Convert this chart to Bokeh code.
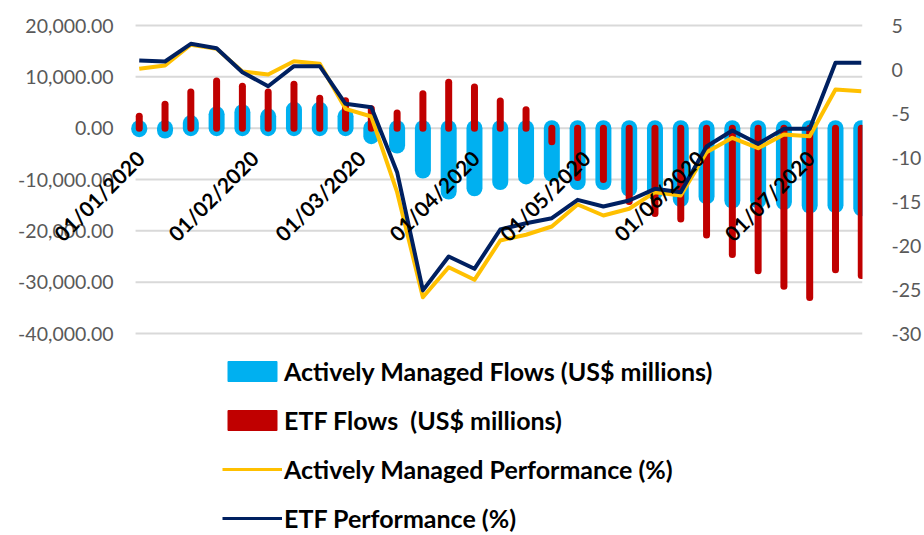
import numpy as np
import pandas as pd
from bokeh.plotting import figure
from bokeh.layouts import column
from bokeh.models import (Range1d, LinearAxis, FixedTicker, NumeralTickFormatter,
                          Legend, LegendItem, ColumnDataSource)
from bokeh.embed import file_html
from bokeh.resources import INLINE
from bokeh.core.properties import value

# ---------------- data ----------------
week_dates = ["2020-01-01", "2020-01-08", "2020-01-15", "2020-01-22", "2020-01-29",
              "2020-02-05", "2020-02-12", "2020-02-19", "2020-02-26",
              "2020-03-04", "2020-03-11", "2020-03-18", "2020-03-25",
              "2020-04-01", "2020-04-08", "2020-04-15", "2020-04-22", "2020-04-29",
              "2020-05-06", "2020-05-13", "2020-05-20", "2020-05-27",
              "2020-06-03", "2020-06-10", "2020-06-17", "2020-06-24",
              "2020-07-01", "2020-07-08", "2020-07-15"]

active_flows = [-200, -450, 1000, 2700, 3100, 2300, 3600, 3600, 2300,
                -1560, -3380, -8250, -12340, -11700, -10500, -9400, -8900,
                -10500, -10500, -11800, -12500, -13800, -13300, -14100,
                -14100, -14400, -15070, -15000, -15600]

etf_flows = [2300, 4640, 7060, 9200, 8150, 7060, 8550, 5850, 5350,
             3800, 2960, 6720, 8930, 8030, 5300, 3600, -2630,
             -9600, -10000, -14300, -16600, -17700, -20800, -24600,
             -27800, -30800, -33000, -27600, -28700]

active_perf = [0.08, 0.45, 2.81, 2.35, -0.23, -0.57, 0.94, 0.65, -4.47,
               -5.34, -13.94, -25.88, -22.47, -23.9, -19.43, -18.78, -17.84,
               -15.34, -16.59, -15.83, -13.94, -14.32, -9.4, -7.76,
               -8.94, -7.39, -7.58, -2.27, -2.47]

etf_perf = [1.02, 0.91, 2.92, 2.42, -0.31, -1.9, 0.38, 0.38, -3.9,
            -4.28, -11.67, -25.1, -21.25, -22.65, -18.18, -17.47, -16.9,
            -14.81, -15.57, -14.89, -13.56, -13.94, -8.75, -6.93,
            -8.44, -6.74, -6.74, 0.76, 0.76]

month_ticks = ["2020-01-01", "2020-02-01", "2020-03-01", "2020-04-01",
               "2020-05-01", "2020-06-01", "2020-07-01"]
month_labels = ["01/01/2020", "01/02/2020", "01/03/2020", "01/04/2020",
                "01/05/2020", "01/06/2020", "01/07/2020"]

left_ticks = [-40000, -30000, -20000, -10000, 0, 10000, 20000]
right_ticks = [-30, -25, -20, -15, -10, -5, 0, 5]

series_names = ["Actively Managed Flows (US$ millions)",
                "ETF Flows  (US$ millions)",
                "Actively Managed Performance (%)",
                "ETF Performance (%)"]

# ---------------- styles / layout ----------------
BLUE = "#00B0F0"
RED = "#C00000"
YELLOW = "#FFC000"
NAVY = "#002060"
GRID = "#D9D9D9"
AXIS_TXT = "#595959"
FONT = "Lato"

PLOT_L, PLOT_R, PLOT_T, PLOT_B = 136, 868, 25, 333   # plot area in pixels
FIG_W, FIG_H = 924, 345
LEFT_MIN, LEFT_MAX = left_ticks[0], left_ticks[-1]
RIGHT_MIN, RIGHT_MAX = right_ticks[0], right_ticks[-1]

dates = pd.to_datetime(week_dates)
n = len(dates)
src = ColumnDataSource(dict(date=dates, zero=[0] * n,
                            active=active_flows, etf=etf_flows,
                            aperf=active_perf, eperf=etf_perf))

# plot-area x extent, then widened so the frame covers the label gutter
x_lo = dates[0] - pd.Timedelta(days=1)
x_hi = dates[-1] + pd.Timedelta(hours=8)
t_per_px = (x_hi - x_lo) / (PLOT_R - PLOT_L)
x_full_lo = x_lo - PLOT_L * t_per_px

lu = (LEFT_MAX - LEFT_MIN) / (PLOT_B - PLOT_T)
ru = (RIGHT_MAX - RIGHT_MIN) / (PLOT_B - PLOT_T)
y_rng = Range1d(LEFT_MIN - (FIG_H - PLOT_B) * lu, LEFT_MAX + PLOT_T * lu)
r_rng = Range1d(RIGHT_MIN - (FIG_H - PLOT_B) * ru, RIGHT_MAX + PLOT_T * ru)

# ---------------- main chart ----------------
p = figure(width=FIG_W, height=FIG_H, x_axis_type="datetime",
           x_axis_location=None, y_axis_location=None,
           x_range=Range1d(x_full_lo, x_hi), y_range=y_rng,
           output_backend="svg", toolbar_location=None,
           min_border_left=0, min_border_right=FIG_W - PLOT_R,
           min_border_top=0, min_border_bottom=0)
p.outline_line_color = None
p.background_fill_color = "white"
p.border_fill_color = "white"
p.xgrid.visible = False
p.ygrid.visible = False

p.extra_y_ranges = {"pct": r_rng}
yr = LinearAxis(y_range_name="pct", ticker=FixedTicker(ticks=right_ticks),
                formatter=NumeralTickFormatter(format="0"))
yr.axis_line_color = None
yr.major_tick_line_color = None
yr.minor_tick_line_color = None
yr.major_label_text_font = FONT
yr.major_label_text_font_size = "19.5px"
yr.major_label_text_color = AXIS_TXT
yr.major_label_standoff = 23
p.add_layout(yr, "right")

# horizontal gridlines at the left-axis ticks, spanning the plot area only
k = len(left_ticks)
p.segment(x0=[x_lo] * k, x1=[x_hi] * k, y0=left_ticks, y1=left_ticks,
          line_color=GRID, line_width=2)

# left value-axis labels
p.text(x=[x_lo] * k, y=left_ticks, text=[f"{v:,.2f}" for v in left_ticks],
       text_align="right", text_baseline="middle", x_offset=-22,
       text_font=value(FONT), text_font_size="19.5px", text_color=AXIS_TXT)

# bars drawn as thick round-capped segments
p.segment(x0="date", y0="zero", x1="date", y1="active", source=src,
          line_color=BLUE, line_width=16, line_cap="round")
p.segment(x0="date", y0="zero", x1="date", y1="etf", source=src,
          line_color=RED, line_width=7, line_cap="round")

# performance lines
p.line(x="date", y="aperf", source=src, y_range_name="pct",
       line_color=YELLOW, line_width=4, line_join="round")
p.line(x="date", y="eperf", source=src, y_range_name="pct",
       line_color=NAVY, line_width=4, line_join="round")

# date labels hanging from the zero line
p.text(x=pd.to_datetime(month_ticks), y=[0] * len(month_ticks), text=month_labels,
       angle=np.pi / 4, text_align="right", text_baseline="middle",
       text_font=value(FONT), text_font_style="bold", text_font_size="21px",
       text_color="black", x_offset=1, y_offset=26)

# ---------------- legend panel ----------------
lp = figure(width=FIG_W, height=535 - FIG_H, x_axis_location=None, y_axis_location=None,
            output_backend="svg", toolbar_location=None, min_border=0)
lp.outline_line_color = None
lp.xgrid.visible = False
lp.ygrid.visible = False
lp.background_fill_color = "white"
lp.border_fill_color = "white"

# hidden renderers that only give the legend its swatches
lg_blue = lp.vbar(x="date", top="active", width=1, source=src, fill_color=BLUE,
                  line_color=BLUE, line_width=2, line_join="round", visible=False)
lg_red = lp.vbar(x="date", top="etf", width=1, source=src, fill_color=RED,
                 line_color=RED, line_width=2, line_join="round", visible=False)
lg_yel = lp.line(x="date", y="aperf", source=src,
                 line_color=YELLOW, line_width=3, visible=False)
lg_navy = lp.line(x="date", y="eperf", source=src,
                  line_color=NAVY, line_width=3, visible=False)

legend = Legend(items=[LegendItem(label=series_names[0], renderers=[lg_blue]),
                       LegendItem(label=series_names[1], renderers=[lg_red]),
                       LegendItem(label=series_names[2], renderers=[lg_yel]),
                       LegendItem(label=series_names[3], renderers=[lg_navy])],
                location=(222, 2), orientation="vertical",
                glyph_width=60, glyph_height=24, label_standoff=2,
                spacing=19, padding=0, margin=0,
                border_line_color=None, background_fill_alpha=0,
                inactive_fill_alpha=0, click_policy="none",
                label_text_font=FONT, label_text_font_style="bold",
                label_text_font_size="25px", label_height=30,
                label_text_color="black")
lp.add_layout(legend, "center")

layout = column(p, lp, spacing=0)
open("out.html", "w").write(file_html(layout, INLINE))
